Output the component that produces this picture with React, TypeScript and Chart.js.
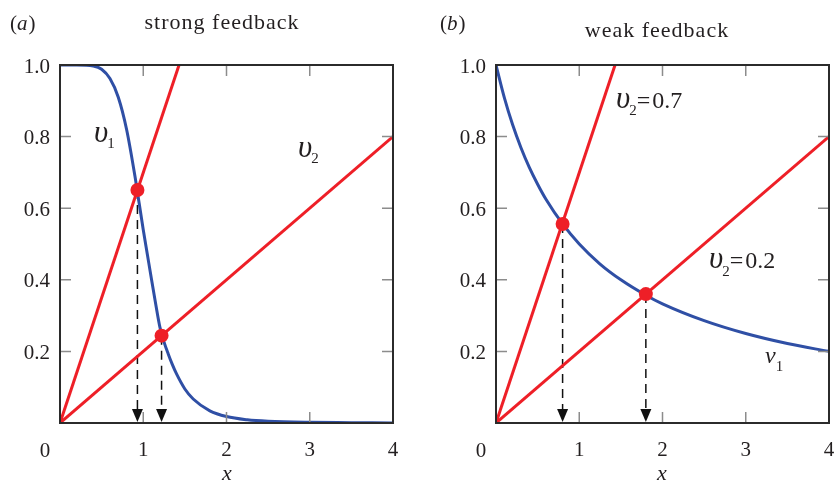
import React, { useEffect, useRef } from 'react';
import { Chart, registerables } from 'chart.js';

Chart.register(...registerables);

// ---------- data ----------
const X_TICKS = [0, 1, 2, 3, 4];
const Y_TICKS = [0, 0.2, 0.4, 0.6, 0.8, 1.0];

// panel (a) strong feedback: v1 curve
const strongX = [0, 0.2, 0.4, 0.5, 0.6, 0.7, 0.8, 0.9, 0.95, 1.0, 1.05, 1.1, 1.15, 1.2, 1.25, 1.3, 1.35, 1.4, 1.5, 1.6, 1.8, 2.0, 2.25, 2.5, 3.0, 3.5, 4.0];
const strongV1 = [1, 1, 0.997, 0.988, 0.962, 0.91, 0.82, 0.69, 0.615, 0.54, 0.47, 0.4, 0.332, 0.268, 0.226, 0.193, 0.163, 0.137, 0.095, 0.067, 0.034, 0.018, 0.009, 0.005, 0.002, 0.001, 0.0];

// panel (b) weak feedback: v1 curve
const weakX = [0, 0.1, 0.2, 0.3, 0.4, 0.5, 0.6, 0.8, 1.0, 1.25, 1.5, 1.8, 2.0, 2.5, 3.0, 3.5, 4.0];
const weakV1 = [1, 0.909, 0.833, 0.769, 0.714, 0.667, 0.625, 0.556, 0.5, 0.444, 0.4, 0.357, 0.333, 0.286, 0.25, 0.222, 0.2];

// v2 lines (v2 = 0.7 and v2 = 0.2)
const steepX = [0, 1.43];
const steepV2 = [0, 1.0];
const shallowX = [0, 4];
const shallowV2 = [0, 0.8];

// fixed points
const strongFixX = [0.93, 1.22];
const strongFixV = [0.651, 0.244];
const weakFixX = [0.8, 1.8];
const weakFixV = [0.556, 0.36];

// ---------- styles ----------
const BLUE = '#2f4fa5';
const RED = '#ee1f27';
const TEXT = '#231f20';
const FRAME = '#2b2b2b';
const TICK = '#8c8c8c';
const SERIF = '"Liberation Serif", "Times New Roman", serif';

type Part = { t: string; size: number; italic?: boolean; dy?: number; dx?: number };
type Label = { x: number; y: number; parts: Part[]; align?: 'left' | 'center'; spacing?: number };

type Spec = {
  curveX: number[];
  curveV: number[];
  fixX: number[];
  fixV: number[];
  axisLeft: number;
  padRight: number;
  labels: Label[];
};

function drawLabel(ctx: CanvasRenderingContext2D, lab: Label) {
  const font = (p: Part) => `${p.italic ? 'italic ' : ''}${p.size}px ${SERIF}`;
  (ctx as any).letterSpacing = `${lab.spacing || 0}px`;
  let total = 0;
  const widths = lab.parts.map((p) => {
    ctx.font = font(p);
    const w = ctx.measureText(p.t).width;
    total += w + (p.dx || 0);
    return w;
  });
  let cx = lab.align === 'center' ? lab.x - total / 2 : lab.x;
  ctx.textAlign = 'left';
  ctx.textBaseline = 'alphabetic';
  ctx.fillStyle = TEXT;
  lab.parts.forEach((p, i) => {
    cx += p.dx || 0;
    ctx.font = font(p);
    ctx.fillText(p.t, cx, lab.y + (p.dy || 0));
    cx += widths[i];
  });
  (ctx as any).letterSpacing = '0px';
}

function decoPlugin(spec: Spec) {
  return {
    id: 'deco',
    beforeDatasetsDraw(chart: any) {
      const { ctx, scales } = chart;
      const x = scales.x;
      const y = scales.y;
      const base = y.getPixelForValue(0);
      ctx.save();
      spec.fixX.forEach((fx, i) => {
        const px = x.getPixelForValue(fx);
        const py = y.getPixelForValue(spec.fixV[i]);
        ctx.setLineDash([9, 6]);
        ctx.lineWidth = 1.5;
        ctx.strokeStyle = '#111';
        ctx.beginPath();
        ctx.moveTo(px, py);
        ctx.lineTo(px, base - 13);
        ctx.stroke();
        ctx.setLineDash([]);
        ctx.fillStyle = '#111';
        ctx.beginPath();
        ctx.moveTo(px - 5.5, base - 14);
        ctx.lineTo(px + 5.5, base - 14);
        ctx.lineTo(px, base - 1);
        ctx.closePath();
        ctx.fill();
      });
      ctx.restore();
    },
    afterDraw(chart: any) {
      const { ctx, chartArea: a, scales } = chart;
      const x = scales.x;
      const y = scales.y;
      ctx.save();
      // inward ticks
      ctx.strokeStyle = TICK;
      ctx.lineWidth = 1.5;
      const L = 11;
      x.ticks.forEach((t: any) => {
        if (t.value <= x.min || t.value >= x.max) return;
        const px = x.getPixelForValue(t.value);
        ctx.beginPath();
        ctx.moveTo(px, a.bottom);
        ctx.lineTo(px, a.bottom - L);
        ctx.moveTo(px, a.top);
        ctx.lineTo(px, a.top + L);
        ctx.stroke();
      });
      y.ticks.forEach((t: any) => {
        if (t.value <= y.min + 1e-9 || t.value >= y.max - 1e-9) return;
        const py = y.getPixelForValue(t.value);
        ctx.beginPath();
        ctx.moveTo(a.left, py);
        ctx.lineTo(a.left + L, py);
        ctx.moveTo(a.right, py);
        ctx.lineTo(a.right - L, py);
        ctx.stroke();
      });
      // frame
      ctx.strokeStyle = FRAME;
      ctx.lineWidth = 2;
      ctx.strokeRect(a.left, a.top, a.right - a.left, a.bottom - a.top);
      // labels
      spec.labels.forEach((l) => drawLabel(ctx, l));
      // origin label "0"
      ctx.font = `21px ${SERIF}`;
      ctx.fillStyle = TEXT;
      ctx.textAlign = 'center';
      ctx.textBaseline = 'alphabetic';
      ctx.fillText(String(X_TICKS[0]), a.left - 15, 457);
      ctx.restore();
    },
  };
}

function buildConfig(spec: Spec): any {
  const pts = (xs: number[], ys: number[]) => xs.map((v, i) => ({ x: v, y: ys[i] }));
  const tickFont = { family: SERIF, size: 21 };
  return {
    type: 'scatter',
    data: {
      datasets: [
        {
          type: 'line',
          data: pts(spec.curveX, spec.curveV),
          borderColor: BLUE,
          borderWidth: 3,
          pointRadius: 0,
          cubicInterpolationMode: 'monotone',
          fill: false,
          order: 3,
        },
        { type: 'line', data: pts(steepX, steepV2), borderColor: RED, borderWidth: 3, pointRadius: 0, fill: false, order: 2 },
        { type: 'line', data: pts(shallowX, shallowV2), borderColor: RED, borderWidth: 3, pointRadius: 0, fill: false, order: 1 },
        {
          type: 'scatter',
          data: pts(spec.fixX, spec.fixV),
          backgroundColor: RED,
          borderColor: RED,
          borderWidth: 0,
          pointRadius: 7,
          order: 0,
        },
      ],
    },
    options: {
      animation: false,
      responsive: false,
      devicePixelRatio: 1,
      events: [],
      layout: { padding: { top: 65, right: spec.padRight, left: 0, bottom: 0 } },
      plugins: { legend: { display: false }, tooltip: { enabled: false }, title: { display: false } },
      scales: {
        x: {
          type: 'linear',
          min: 0,
          max: 4,
          afterBuildTicks: (s: any) => {
            s.ticks = X_TICKS.map((v) => ({ value: v }));
          },
          afterFit: (s: any) => {
            s.height = 67;
          },
          grid: { display: false, drawTicks: false },
          border: { display: false },
          ticks: {
            padding: 15,
            color: TEXT,
            font: tickFont,
            maxRotation: 0,
            autoSkip: false,
            callback: (v: number) => (v === 0 ? '' : String(v)),
          },
        },
        y: {
          type: 'linear',
          min: 0,
          max: 1,
          afterBuildTicks: (s: any) => {
            s.ticks = Y_TICKS.map((v) => ({ value: v }));
          },
          afterFit: (s: any) => {
            s.width = spec.axisLeft;
          },
          grid: { display: false, drawTicks: false },
          border: { display: false },
          ticks: {
            padding: 10,
            labelOffset: 2,
            color: TEXT,
            font: tickFont,
            autoSkip: false,
            callback: (v: number) => (v === 0 ? '' : Number(v).toFixed(1)),
          },
        },
      },
    },
    plugins: [decoPlugin(spec)],
  };
}

const leftSpec: Spec = {
  curveX: strongX,
  curveV: strongV1,
  fixX: strongFixX,
  fixV: strongFixV,
  axisLeft: 60,
  padRight: 24,
  labels: [
    { x: 10, y: 30, parts: [{ t: '(', size: 21 }, { t: 'a', size: 21, italic: true }, { t: ')', size: 21, dx: 1 }] },
    { x: 222, y: 29, align: 'center', spacing: 1, parts: [{ t: 'strong feedback', size: 22 }] },
    { x: 94, y: 142, parts: [{ t: 'υ', size: 31, italic: true }, { t: '1', size: 15, dy: 6, dx: -1 }] },
    { x: 298, y: 157, parts: [{ t: 'υ', size: 31, italic: true }, { t: '2', size: 15, dy: 6, dx: -1 }] },
    { x: 227, y: 480, align: 'center', parts: [{ t: 'x', size: 22, italic: true }] },
  ],
};

const rightSpec: Spec = {
  curveX: weakX,
  curveV: weakV1,
  fixX: weakFixX,
  fixV: weakFixV,
  axisLeft: 79,
  padRight: 28,
  labels: [
    { x: 23, y: 30, parts: [{ t: '(', size: 21 }, { t: 'b', size: 21, italic: true }, { t: ')', size: 21, dx: 1 }] },
    { x: 240, y: 37, align: 'center', spacing: 1, parts: [{ t: 'weak feedback', size: 22 }] },
    {
      x: 199,
      y: 108,
      parts: [
        { t: 'υ', size: 31, italic: true },
        { t: '2', size: 15, dy: 7, dx: -1 },
        { t: '=', size: 24, dx: 0 },
        { t: '0.7', size: 24, dx: 2 },
      ],
    },
    {
      x: 292,
      y: 268,
      parts: [
        { t: 'υ', size: 31, italic: true },
        { t: '2', size: 15, dy: 8, dx: -1 },
        { t: '=', size: 24, dx: 0 },
        { t: '0.2', size: 24, dx: 2 },
      ],
    },
    { x: 348, y: 363, parts: [{ t: 'v', size: 24, italic: true }, { t: '1', size: 15, dy: 8, dx: 0 }] },
    { x: 245, y: 480, align: 'center', parts: [{ t: 'x', size: 22, italic: true }] },
  ],
};

function Panel({ spec, left, width }: { spec: Spec; left: number; width: number }) {
  const ref = useRef<HTMLCanvasElement | null>(null);
  useEffect(() => {
    if (!ref.current) return;
    const chart = new Chart(ref.current, buildConfig(spec));
    return () => chart.destroy();
  }, [spec]);
  return (
    <canvas
      ref={ref}
      width={width}
      height={490}
      style={{ position: 'absolute', left, top: 0, width, height: 490, display: 'block' }}
    />
  );
}

export default function App() {
  return (
    <div style={{ position: 'absolute', left: 0, top: 0, width: 835, height: 490, background: '#fff', overflow: 'hidden' }}>
      <Panel spec={leftSpec} left={0} width={417} />
      <Panel spec={rightSpec} left={417} width={440} />
    </div>
  );
}
